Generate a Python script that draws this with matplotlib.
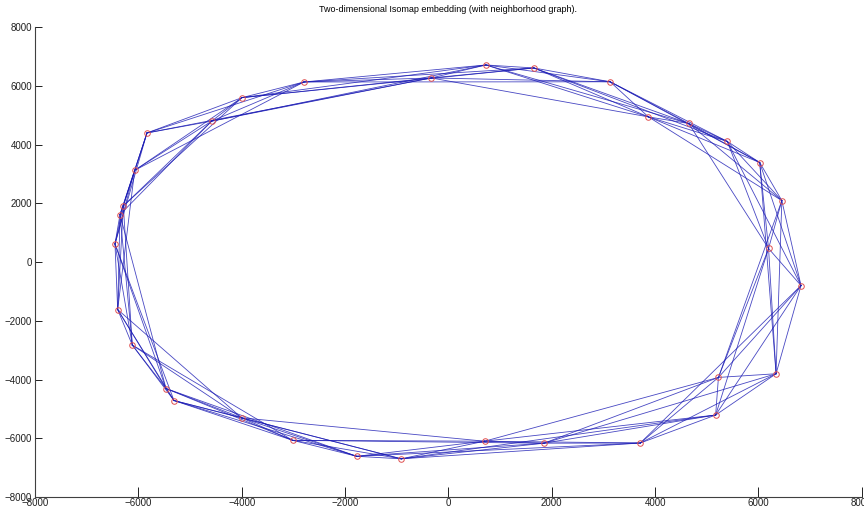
import matplotlib
matplotlib.use('Agg')
import matplotlib.pyplot as plt

# embedding coordinates, in ring order round the ellipse
x = [-6452, -6355, -6291, -6071, -5833, -4581, -3995, -2795, -333, 725,
     1654, 3130, 3870, 4650, 5396, 6024, 6452, 6195, 6823, 6340,
     5225, 5171, 3713, 1848, 700, -913, -1773, -3014, -4001, -5310,
     -5465, -6117, -6400]
y = [619, 1617, 1913, 3125, 4398, 4800, 5600, 6134, 6271, 6713,
     6611, 6140, 4945, 4720, 4109, 3391, 2094, 463, -800, -3803,
     -3928, -5209, -6162, -6168, -6100, -6700, -6615, -6070, -5304, -4715,
     -4306, -2826, -1617]

n_neighbors = 4  # neighbours on each side along the ring
ticks = [-8000, -6000, -4000, -2000, 0, 2000, 4000, 6000, 8000]

plt.rcParams['font.family'] = ['Liberation Sans', 'DejaVu Sans']

fig = plt.figure(figsize=(8.64, 5.09), dpi=100)
ax = fig.add_axes([0.0405, 0.0236, 0.957, 0.923])

n = len(x)
for i in range(n):
    for k in range(1, n_neighbors + 1):
        j = (i + k) % n
        ax.plot([x[i], x[j]], [y[i], y[j]], color='#1a1ab4', lw=0.6, alpha=0.8)

ax.plot(x, y, 'o', ms=4, mfc='none', mec='#e05050', mew=0.7)

ax.set_xlim(-8000, 8000)
ax.set_ylim(-8000, 8000)
ax.set_xticks(ticks)
ax.set_yticks(ticks)
ax.spines['top'].set_visible(False)
ax.spines['right'].set_visible(False)
for s in ['left', 'bottom']:
    ax.spines[s].set_color('#404040')
    ax.spines[s].set_linewidth(0.8)
ax.tick_params(axis='x', direction='in', length=7, width=0.7, labelsize=7, pad=1, colors='#202020')
ax.tick_params(axis='y', direction='in', length=5, width=0.7, labelsize=7, pad=2, colors='#202020')
ax.set_title('Two-dimensional Isomap embedding (with neighborhood graph).', fontsize=6.5, pad=11)

fig.savefig('out.png', dpi=100)
